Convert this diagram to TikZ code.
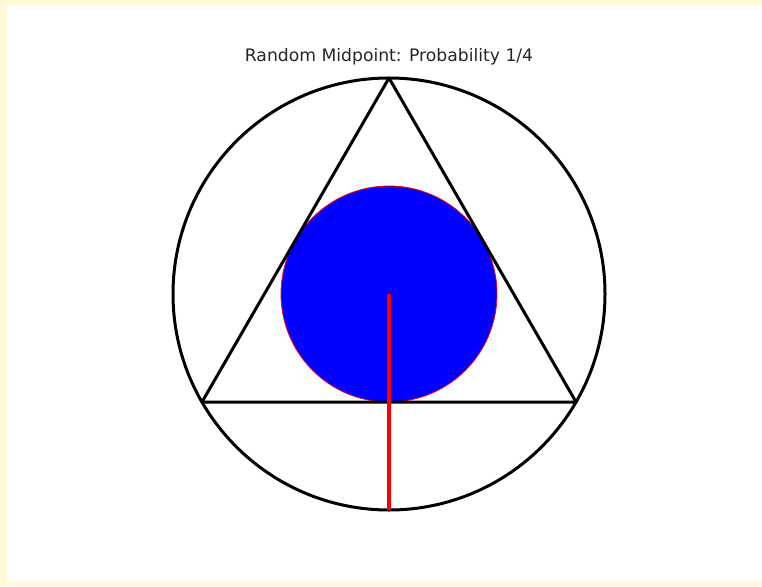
\documentclass[tikz,border=0pt]{standalone}
\usepackage{fontspec}
\setmainfont{DejaVu Sans}
\definecolor{bgyellow}{HTML}{FFFAD5}
\begin{document}
\begin{tikzpicture}[x=1pt,y=-1pt,
  blackline/.style={draw=black,line width=3pt,line join=round},
  redline/.style={draw=red,line width=3.5pt},
  inner/.style={fill=blue,draw=red,line width=0.8pt}]
\useasboundingbox (0,0) rectangle (762,586);
\fill[bgyellow] (0,0) rectangle (762,586);
\fill[white] (7,5) rectangle (762,581);
\coordinate (O) at (389,294);
\coordinate (A) at (389,78);
\coordinate (B) at (202,402);
\coordinate (C) at (576,402);
\coordinate (D) at (389,510);
\node[font=\fontsize{17.2}{20}\selectfont,text=black!85,inner sep=0pt,anchor=base] (title) at (389,61) {Random Midpoint: Probability 1/4};
\path[inner] (O) circle[radius=108];
\draw[blackline] (O) circle[radius=216];
\draw[blackline] (A) -- (B) -- (C) -- cycle;
\draw[redline] (O) -- (D);
\end{tikzpicture}
\end{document}
